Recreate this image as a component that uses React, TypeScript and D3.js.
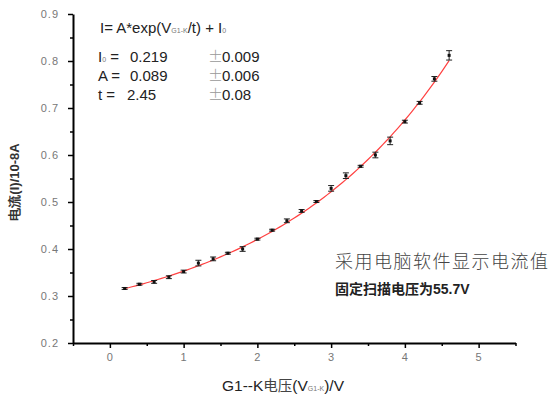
import * as d3 from 'd3';
import React, { useRef, useEffect } from 'react';

// measured points (V in volts, I in 10^-8 A)
const volts = [0.2, 0.4, 0.6, 0.8, 1.0, 1.2, 1.4, 1.6, 1.8, 2.0, 2.2, 2.4, 2.6, 2.8, 3.0, 3.2, 3.4, 3.6, 3.8, 4.0, 4.2, 4.4, 4.6];
const current = [0.316, 0.325, 0.330, 0.340, 0.352, 0.370, 0.379, 0.391, 0.400, 0.421, 0.440, 0.460, 0.481, 0.501, 0.529, 0.556, 0.576, 0.600, 0.630, 0.671, 0.711, 0.762, 0.812];
const errors = [0.002, 0.002, 0.003, 0.003, 0.003, 0.006, 0.004, 0.002, 0.005, 0.002, 0.002, 0.004, 0.003, 0.002, 0.006, 0.006, 0.002, 0.006, 0.008, 0.003, 0.003, 0.005, 0.01];

// fit parameters shown in the chart
const fitLabels = ['I0', 'A', 't'];
const fitValues = [0.219, 0.089, 2.45];
const fitValueText = ['0.219', '0.089', '2.45'];
const fitErrText = ['0.009', '0.006', '0.08'];

const xTicks = [0, 1, 2, 3, 4, 5];
const yTicks = [0.2, 0.3, 0.4, 0.5, 0.6, 0.7, 0.8, 0.9];

const width = 554;
const height = 401;
const sans = '"Liberation Sans", Arial, sans-serif';

function Chart() {
  const ref = useRef(null);

  useEffect(() => {
    draw();
  }, []);

  const draw = () => {
    const svg = d3.select(ref.current);
    svg.selectAll('*').remove();

    const x = d3.scaleLinear().domain([-0.5, 5.5]).range([73, 515.5]);
    const y = d3.scaleLinear().domain([0.2, 0.9]).range([343, 14]);

    // minor ticks
    svg.append('g')
      .attr('transform', 'translate(0,343)')
      .call(d3.axisBottom(x).tickValues(d3.range(-0.5, 5.6, 1)).tickSize(3).tickFormat(() => '').tickSizeOuter(0))
      .call(g => g.select('.domain').remove())
      .selectAll('line').attr('stroke-width', 1.5);
    svg.append('g')
      .attr('transform', 'translate(73,0)')
      .call(d3.axisLeft(y).tickValues(d3.range(0.25, 0.9, 0.1)).tickSize(3).tickFormat(() => '').tickSizeOuter(0))
      .call(g => g.select('.domain').remove())
      .selectAll('line').attr('stroke-width', 1.5);

    // major axes
    const xAxis = svg.append('g')
      .attr('transform', 'translate(0,343)')
      .call(d3.axisBottom(x).tickValues(xTicks).tickSize(5).tickPadding(5).tickSizeOuter(0).tickFormat(d3.format('d')));
    const yAxis = svg.append('g')
      .attr('transform', 'translate(73,0)')
      .call(d3.axisLeft(y).tickValues(yTicks).tickSize(5).tickPadding(9).tickSizeOuter(0).tickFormat(d3.format('.1f')));

    [xAxis, yAxis].forEach(a => {
      a.select('.domain').attr('stroke-width', 2);
      a.selectAll('line').attr('stroke-width', 1.5);
      a.selectAll('text')
        .attr('font-family', sans)
        .attr('font-size', 11)
        .attr('fill', '#777')
        .attr('letter-spacing', 1);
    });

    // fit curve from the fitted parameters
    const [I0, A, t] = fitValues;
    const curveX = d3.range(volts[0], volts[volts.length - 1] + 0.001, 0.05);
    const line = d3.line().x(d => x(d)).y(d => y(A * Math.exp(d / t) + I0)).curve(d3.curveMonotoneX);
    svg.append('path')
      .datum(curveX)
      .attr('d', line)
      .attr('fill', 'none')
      .attr('stroke', '#ff4040')
      .attr('stroke-width', 1.2);

    // error bars + points
    const pts = volts.map((v, i) => ({ v, c: current[i], e: errors[i] }));
    const eb = svg.append('g').attr('stroke', '#222').attr('stroke-width', 1);
    pts.forEach(p => {
      const cx = x(p.v);
      eb.append('line').attr('x1', cx).attr('x2', cx).attr('y1', y(p.c - p.e)).attr('y2', y(p.c + p.e));
      eb.append('line').attr('x1', cx - 3).attr('x2', cx + 3).attr('y1', y(p.c - p.e)).attr('y2', y(p.c - p.e));
      eb.append('line').attr('x1', cx - 3).attr('x2', cx + 3).attr('y1', y(p.c + p.e)).attr('y2', y(p.c + p.e));
    });
    svg.append('g')
      .selectAll('rect')
      .data(pts)
      .enter()
      .append('rect')
      .attr('x', d => x(d.v) - 1.5)
      .attr('y', d => y(d.c) - 1.5)
      .attr('width', 3)
      .attr('height', 3)
      .attr('fill', '#111');

    // fit equation
    const eq = svg.append('text')
      .attr('x', 100).attr('y', 33)
      .attr('font-family', sans).attr('font-size', 15).attr('fill', '#222');
    eq.append('tspan').text('I= A*exp(V');
    eq.append('tspan').attr('font-size', 7).attr('fill', '#777').text('G1-K');
    eq.append('tspan').text('/t) + I');
    eq.append('tspan').attr('font-size', 7).attr('fill', '#777').text('0');

    fitLabels.forEach((lab, i) => {
      const yy = 62 + i * 19;
      const tx = svg.append('text')
        .attr('x', 98).attr('y', yy)
        .attr('font-family', sans).attr('font-size', 15).attr('fill', '#222');
      if (lab === 'I0') {
        tx.append('tspan').text('I');
        tx.append('tspan').attr('font-size', 7).attr('fill', '#777').text('0');
        tx.append('tspan').text(' =');
      } else if (lab === 't') {
        tx.append('tspan').text('t  =');
      } else {
        tx.append('tspan').text(lab + ' =');
      }
      svg.append('text')
        .attr('x', lab === 't' ? 127 : 130).attr('y', yy)
        .attr('font-family', sans).attr('font-size', 15).attr('fill', '#222')
        .text(fitValueText[i]);
      svg.append('text')
        .attr('x', 208).attr('y', yy)
        .attr('font-family', '"Noto Sans CJK SC"').attr('font-size', 15).attr('font-weight', 300).attr('fill', '#999')
        .text('±');
      svg.append('text')
        .attr('x', 222).attr('y', yy)
        .attr('font-family', sans).attr('font-size', 15).attr('fill', '#222')
        .text(fitErrText[i]);
    });

    // axis titles
    const xl = svg.append('text')
      .attr('x', 222).attr('y', 391)
      .attr('font-family', sans).attr('font-size', 15.5).attr('fill', '#222');
    xl.append('tspan').text('G1--K');
    xl.append('tspan').attr('font-family', '"Noto Sans CJK SC"').attr('font-size', 14.5).attr('fill', '#444').text('电压');
    xl.append('tspan').text('(V');
    xl.append('tspan').attr('font-size', 7).attr('fill', '#777').text('G1-K');
    xl.append('tspan').text(')/V');

    svg.append('text')
      .attr('transform', 'translate(19,182) rotate(-90)')
      .attr('text-anchor', 'middle')
      .attr('font-family', sans).attr('font-size', 13).attr('font-weight', 'bold').attr('fill', '#333')
      .text('电流(I)/10-8A');

    // notes
    svg.append('text')
      .attr('x', 335).attr('y', 268)
      .attr('font-family', '"Noto Sans CJK SC"').attr('font-size', 18).attr('font-weight', 300).attr('fill', '#444')
      .attr('textLength', 213)
      .text('采用电脑软件显示电流值');
    const n2 = svg.append('text')
      .attr('x', 335).attr('y', 294)
      .attr('font-size', 14).attr('font-weight', 'bold').attr('fill', '#222');
    n2.append('tspan').attr('font-family', '"Noto Sans CJK SC"').text('固定扫描电压为');
    n2.append('tspan').attr('font-family', sans).text('55.7V');
  };

  return (
    <div style={{ position: 'absolute', left: 0, top: 0 }}>
      <svg ref={ref} width={width} height={height} style={{ background: '#fff', display: 'block' }} />
    </div>
  );
}

export default function App() {
  return <Chart />;
}
